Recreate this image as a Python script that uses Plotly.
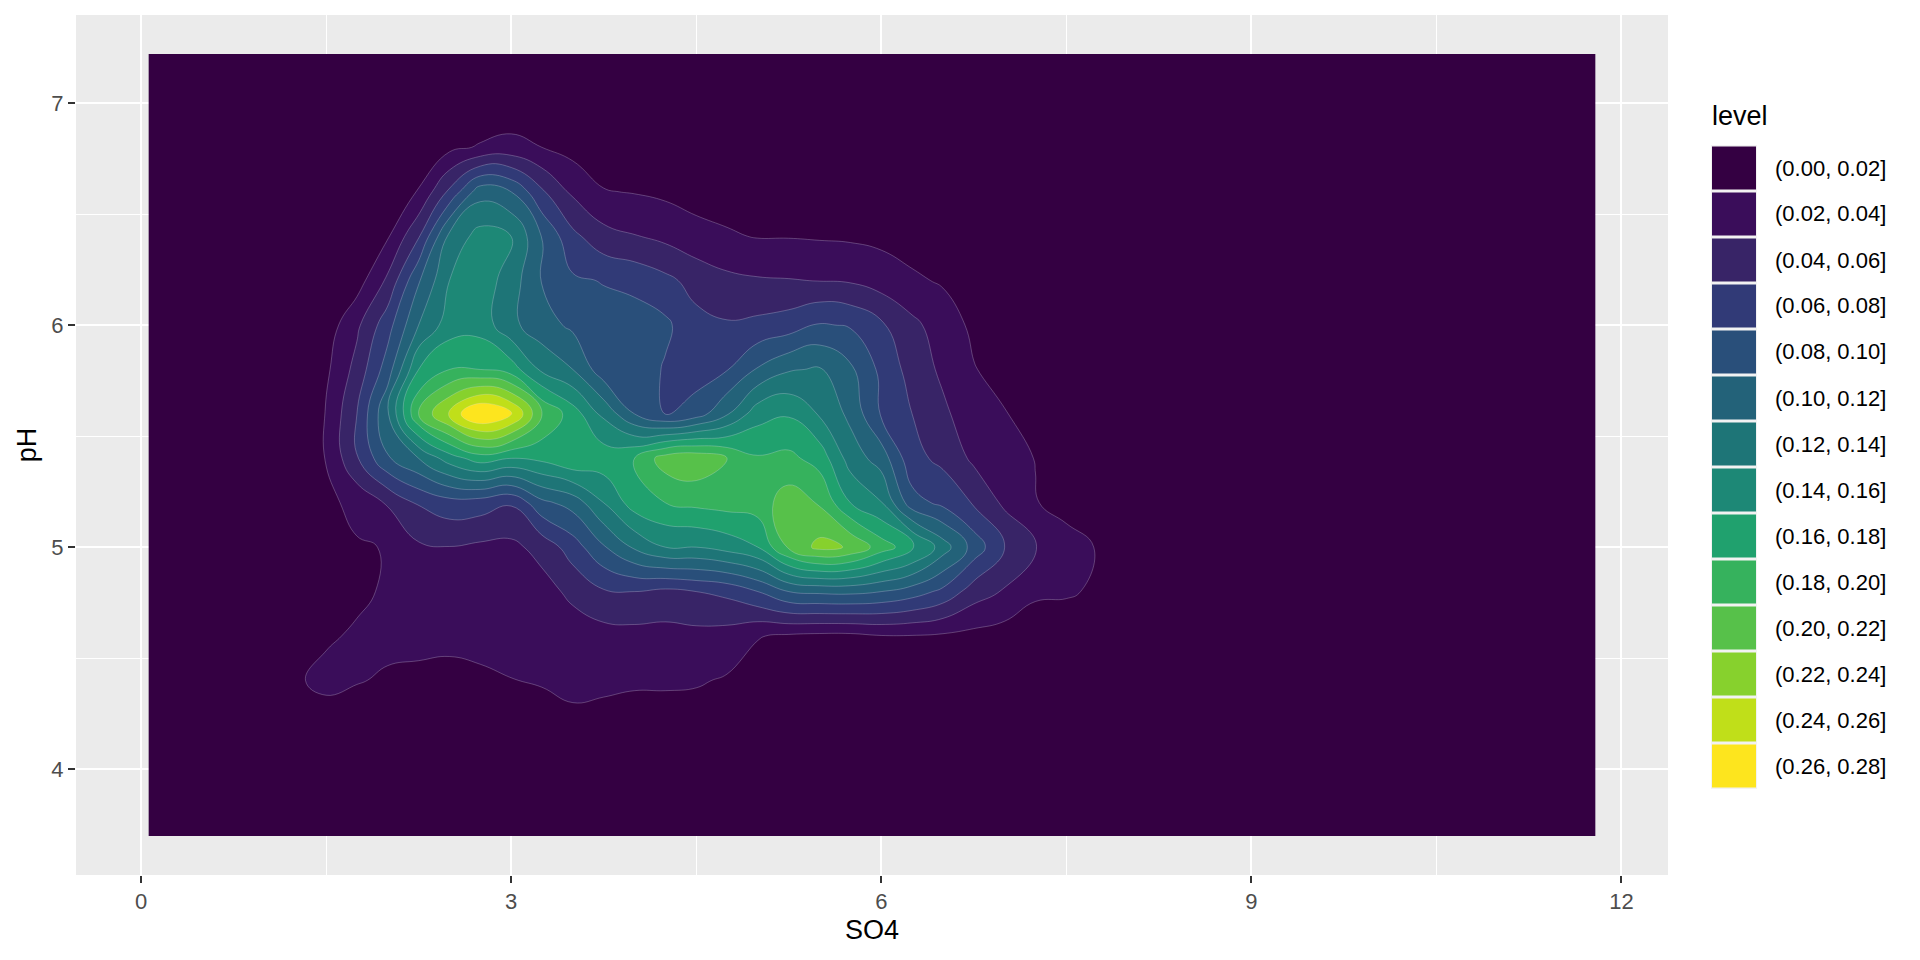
import plotly.graph_objects as go

# ---------------- data ----------------
# grid of SO4 positions (x) and pH positions (y) on which the 2-D density was read
so4_grid = [0.06, 0.5, 1.0, 1.25, 1.5, 1.75, 2.0, 2.25, 2.5, 2.75, 3.0, 3.25, 3.5,
            3.75, 4.0, 4.25, 4.5, 4.75, 5.0, 5.25, 5.5, 5.75, 6.0, 6.25, 6.5, 6.75,
            7.0, 7.25, 7.5, 7.75, 8.0, 8.5, 9.0, 11.79]
ph_grid = [3.70, 4.0, 4.2, 4.4, 4.6, 4.8, 5.0, 5.2, 5.4, 5.6, 5.8, 6.0, 6.2, 6.4,
           6.6, 6.8, 7.0, 7.22]

# estimated density along each pH row, for SO4 = 1.0, 1.25, ..., 8.0
dens_ph_700 = [0, 0, 0, 0, 0, 0, 0.001, 0.003, 0.004, 0.003, 0.002, 0.001, 0.001, 0.001, 0, 0, 0, 0, 0, 0, 0, 0, 0, 0, 0, 0, 0, 0, 0]
dens_ph_680 = [0, 0, 0.001, 0.002, 0.004, 0.008, 0.015, 0.022, 0.027, 0.020, 0.013, 0.009, 0.008, 0.008, 0.007, 0.006, 0.005, 0.004, 0.003, 0.002, 0.002, 0.001, 0.001, 0, 0, 0, 0, 0, 0]
dens_ph_660 = [0, 0.001, 0.002, 0.004, 0.010, 0.021, 0.064, 0.112, 0.100, 0.063, 0.036, 0.021, 0.019, 0.016, 0.012, 0.012, 0.011, 0.010, 0.009, 0.008, 0.007, 0.005, 0.003, 0.002, 0.001, 0, 0, 0, 0]
dens_ph_640 = [0, 0.001, 0.003, 0.006, 0.018, 0.058, 0.125, 0.148, 0.142, 0.099, 0.065, 0.047, 0.041, 0.035, 0.027, 0.022, 0.019, 0.019, 0.018, 0.017, 0.015, 0.012, 0.008, 0.005, 0.002, 0.001, 0, 0, 0]
dens_ph_620 = [0, 0.002, 0.005, 0.011, 0.044, 0.098, 0.140, 0.152, 0.130, 0.099, 0.083, 0.079, 0.074, 0.065, 0.053, 0.045, 0.042, 0.041, 0.0395, 0.038, 0.031, 0.023, 0.018, 0.010, 0.005, 0.002, 0.001, 0, 0]
dens_ph_600 = [0, 0.006, 0.009, 0.036, 0.072, 0.120, 0.150, 0.152, 0.125, 0.108, 0.096, 0.088, 0.090, 0.084, 0.066, 0.062, 0.065, 0.070, 0.082, 0.078, 0.063, 0.045, 0.030, 0.016, 0.008, 0.003, 0.001, 0, 0]
dens_ph_580 = [0.002, 0.008, 0.016, 0.047, 0.090, 0.160, 0.180, 0.180, 0.170, 0.136, 0.120, 0.088, 0.092, 0.078, 0.070, 0.079, 0.102, 0.118, 0.122, 0.104, 0.075, 0.052, 0.036, 0.021, 0.013, 0.007, 0.003, 0.001, 0]
dens_ph_560 = [0.003, 0.013, 0.0205, 0.060, 0.118, 0.200, 0.245, 0.285, 0.265, 0.200, 0.170, 0.135, 0.100, 0.078, 0.090, 0.118, 0.152, 0.158, 0.138, 0.115, 0.078, 0.060, 0.044, 0.028, 0.021, 0.013, 0.006, 0.002, 0]
dens_ph_540 = [0.003, 0.013, 0.0205, 0.058, 0.098, 0.120, 0.150, 0.170, 0.160, 0.165, 0.178, 0.172, 0.181, 0.210, 0.215, 0.200, 0.182, 0.185, 0.172, 0.131, 0.111, 0.066, 0.055, 0.036, 0.027, 0.0195, 0.010, 0.004, 0.001]
dens_ph_520 = [0.003, 0.011, 0.015, 0.026, 0.042, 0.062, 0.072, 0.070, 0.062, 0.095, 0.108, 0.140, 0.170, 0.180, 0.185, 0.188, 0.190, 0.210, 0.198, 0.160, 0.141, 0.088, 0.075, 0.058, 0.036, 0.021, 0.013, 0.008, 0.004]
dens_ph_500 = [0.003, 0.010, 0.012, 0.018, 0.021, 0.037, 0.0395, 0.036, 0.035, 0.047, 0.070, 0.098, 0.123, 0.140, 0.140, 0.148, 0.160, 0.203, 0.226, 0.218, 0.190, 0.168, 0.130, 0.092, 0.060, 0.042, 0.028, 0.019, 0.010]
dens_ph_480 = [0.003, 0.010, 0.013, 0.017, 0.022, 0.030, 0.032, 0.032, 0.031, 0.032, 0.045, 0.058, 0.060, 0.055, 0.060, 0.065, 0.080, 0.100, 0.104, 0.105, 0.100, 0.090, 0.075, 0.050, 0.038, 0.024, 0.023, 0.0165, 0.008]
dens_ph_460 = [0.005, 0.012, 0.018, 0.022, 0.024, 0.025, 0.026, 0.027, 0.027, 0.026, 0.029, 0.032, 0.033, 0.033, 0.034, 0.032, 0.021, 0.017, 0.015, 0.015, 0.019, 0.019, 0.017, 0.014, 0.011, 0.006, 0.004, 0.002, 0]
dens_ph_440 = [0.009, 0.018, 0.024, 0.021, 0.018, 0.016, 0.013, 0.016, 0.0195, 0.022, 0.025, 0.023, 0.023, 0.023, 0.022, 0.018, 0.011, 0.008, 0.006, 0.005, 0.004, 0.004, 0.004, 0.003, 0.002, 0.001, 0, 0, 0]
dens_ph_420 = [0.003, 0.006, 0.012, 0.010, 0.008, 0.007, 0.004, 0.005, 0.007, 0.009, 0.015, 0.015, 0.010, 0.010, 0.010, 0.008, 0.004, 0.003, 0.002, 0.001, 0.001, 0, 0, 0, 0, 0, 0, 0, 0]
dens_ph_400 = [0.001, 0.002, 0.003, 0.003, 0.002, 0.001, 0, 0, 0, 0.001, 0.003, 0.004, 0.002, 0.002, 0.002, 0.001, 0, 0, 0, 0, 0, 0, 0, 0, 0, 0, 0, 0, 0]

# level breaks and legend labels
level_breaks = [0.00, 0.02, 0.04, 0.06, 0.08, 0.10, 0.12, 0.14, 0.16, 0.18, 0.20, 0.22, 0.24, 0.26, 0.28]
level_colors = ["#340042", "#3A0D5A", "#382467", "#313A77", "#294F7A", "#236279", "#1E7577",
                "#1D8876", "#20A16E", "#36B25D", "#57C14A", "#87D12D", "#C0DF19", "#FDE51E"]
level_labels = ["({:.2f}, {:.2f}]".format(a, b) for a, b in zip(level_breaks[:-1], level_breaks[1:])]

x_ticks = [0, 3, 6, 9, 12]
y_ticks = [4, 5, 6, 7]

# ---------------- build figure ----------------
def padded(row):
    return [0, 0] + row + [0, 0, 0]

zero_row = [0] * len(so4_grid)
z = [zero_row,
     padded(dens_ph_400), padded(dens_ph_420), padded(dens_ph_440), padded(dens_ph_460),
     padded(dens_ph_480), padded(dens_ph_500), padded(dens_ph_520), padded(dens_ph_540),
     padded(dens_ph_560), padded(dens_ph_580), padded(dens_ph_600), padded(dens_ph_620),
     padded(dens_ph_640), padded(dens_ph_660), padded(dens_ph_680), padded(dens_ph_700),
     zero_row]

n_lev = len(level_colors)
colorscale = [[k / (n_lev - 1), c] for k, c in enumerate(level_colors)]

fig = go.Figure()
fig.add_trace(go.Contour(
    x=so4_grid, y=ph_grid, z=z,
    autocontour=False,
    contours=dict(start=level_breaks[1], end=level_breaks[-2], size=0.02,
                  coloring="fill", showlines=True),
    colorscale=colorscale,
    line=dict(width=0.6, color="rgba(225,225,240,0.45)", smoothing=1.3),
    showscale=False,
    hoverinfo="skip",
))

W, H = 1920, 960
ML, MR, MT, MB = 76, 252, 15, 85
PW, PH = W - ML - MR, H - MT - MB

def px_x(px):
    return (px - ML) / PW

def px_y(py):
    return (H - MB - py) / PH

font_family = "Liberation Sans, Arial, Helvetica, sans-serif"

shapes = []
annotations = []
key_left, key_right = 1712, 1756
key_top0, key_step = 145, 46
for k, (col, lab) in enumerate(zip(level_colors, level_labels)):
    top = key_top0 + key_step * k
    shapes.append(dict(type="rect", xref="paper", yref="paper",
                       x0=px_x(key_left - 1), x1=px_x(key_right + 1),
                       y0=px_y(top + key_step), y1=px_y(top),
                       fillcolor="#F2F2F2", line=dict(width=0), layer="above"))
    shapes.append(dict(type="rect", xref="paper", yref="paper",
                       x0=px_x(key_left), x1=px_x(key_right),
                       y0=px_y(top + key_step - 1.5), y1=px_y(top + 1.5),
                       fillcolor=col, line=dict(width=0), layer="above"))
    annotations.append(dict(xref="paper", yref="paper", x=px_x(1773), y=px_y(top + key_step / 2),
                            text=lab, showarrow=False, xanchor="left", yanchor="middle",
                            font=dict(family=font_family, size=22, color="black")))
annotations.append(dict(xref="paper", yref="paper", x=px_x(1710), y=px_y(116),
                        text="level", showarrow=False, xanchor="left", yanchor="middle",
                        font=dict(family=font_family, size=27, color="black")))

fig.update_layout(
    width=W, height=H,
    margin=dict(l=ML, r=MR, t=MT, b=MB, autoexpand=False),
    plot_bgcolor="#EBEBEB", paper_bgcolor="white",
    font=dict(family=font_family, size=22, color="#4D4D4D"),
    showlegend=False,
    shapes=shapes,
    annotations=annotations,
    xaxis=dict(range=[-0.527, 12.377], tickvals=x_ticks, ticktext=[str(v) for v in x_ticks],
               ticks="outside", ticklen=7, tickwidth=2, tickcolor="#333333",
               showgrid=True, gridcolor="white", gridwidth=2.2, zeroline=False, showline=False,
               minor=dict(tick0=0, dtick=1.5, showgrid=True, gridcolor="white", gridwidth=1.1, ticks=""),
               tickfont=dict(size=22, color="#4D4D4D"),
               title=dict(text="SO4", font=dict(size=27, color="black"), standoff=6)),
    yaxis=dict(range=[3.524, 7.396], tickvals=y_ticks, ticktext=[str(v) for v in y_ticks],
               ticks="outside", ticklen=7, tickwidth=2, tickcolor="#333333",
               showgrid=True, gridcolor="white", gridwidth=2.2, zeroline=False, showline=False,
               minor=dict(tick0=0, dtick=0.5, showgrid=True, gridcolor="white", gridwidth=1.1, ticks=""),
               tickfont=dict(size=22, color="#4D4D4D"),
               title=dict(text="pH", font=dict(size=27, color="black"), standoff=6)),
)

fig.write_html("out.html", config={"displayModeBar": False},
               post_script="document.body.style.margin='0';")
